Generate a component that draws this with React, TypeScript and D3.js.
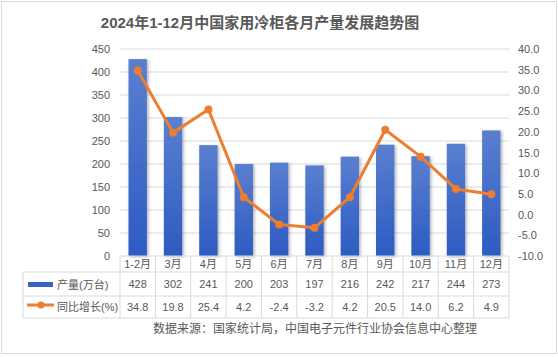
import React from "react";
import * as d3 from "d3";

const categories = ["1-2月", "3月", "4月", "5月", "6月", "7月", "8月", "9月", "10月", "11月", "12月"];
const output = [428, 302, 241, 200, 203, 197, 216, 242, 217, 244, 273];
const growth = [34.8, 19.8, 25.4, 4.2, -2.4, -3.2, 4.2, 20.5, 14.0, 6.2, 4.9];
const leftTicks = [0, 50, 100, 150, 200, 250, 300, 350, 400, 450];
const rightTicks = [-10, -5, 0, 5, 10, 15, 20, 25, 30, 35, 40];
const seriesNames = ["产量(万台)", "同比增长(%)"];
const title = "2024年1-12月中国家用冷柜各月产量发展趋势图";
const source = "数据来源：国家统计局，中国电子元件行业协会信息中心整理";

export default function App() {
  const W = 558, H = 357;
  const x0 = 120, x1 = 509;
  const yTop = 49, yBot = 256;
  const x = d3.scaleBand<string>().domain(categories).range([x0, x1]).paddingInner(0.48).paddingOuter(0.24);
  const band = (x1 - x0) / categories.length;
  const yL = d3.scaleLinear().domain([0, 450]).range([yBot, yTop]);
  const yR = d3.scaleLinear().domain([-10, 40]).range([yBot, yTop]);
  const cx = (c: string) => x0 + categories.indexOf(c) * band + band / 2;
  const line = d3.line<number>().x((_, i) => cx(categories[i])).y((d) => yR(d));
  const font = "'Liberation Sans','Noto Sans CJK SC',sans-serif";
  const txt = "#595959";
  const grid = "#d9d9d9";
  const rows = [256, 272, 296, 318];
  const tableLeft = 23;
  return (
    <svg width={W} height={H} style={{ position: "absolute", left: 0, top: 0 }} fontFamily={font}>
      <defs>
        <linearGradient id="barG" x1="0" y1="0" x2="0" y2="1">
          <stop offset="0%" stopColor="#5a7fcf" />
          <stop offset="100%" stopColor="#2c5bc2" />
        </linearGradient>
        <filter id="sh" x="-30%" y="-10%" width="160%" height="120%">
          <feDropShadow dx="1.5" dy="1" stdDeviation="1.5" floodColor="#000" floodOpacity="0.3" />
        </filter>
      </defs>
      <rect x={0} y={0} width={W} height={H} fill="#fff" />
      <rect x={1.5} y={1.5} width={W - 3} height={352} fill="none" stroke="#d9d9d9" />
      <text x={260} y={28} textAnchor="middle" fontSize={15} fontWeight="bold" fill={txt}>{title}</text>
      {leftTicks.map((t) => (
        <g key={"g" + t}>
          {t > 0 && <line x1={x0} x2={x1} y1={yL(t)} y2={yL(t)} stroke={grid} />}
          <text x={110} y={yL(t) + 4} textAnchor="end" fontSize={11} fill={txt}>{t}</text>
        </g>
      ))}
      {rightTicks.map((t) => (
        <text key={"r" + t} x={518} y={yR(t) + 4} fontSize={11} fill={txt}>{t.toFixed(1)}</text>
      ))}
      {categories.map((c, i) => (
        <rect key={c} x={x(c)!} y={yL(output[i])} width={x.bandwidth()} height={yBot - yL(output[i])} fill="url(#barG)" filter="url(#sh)" />
      ))}
      <path d={line(growth)!} fill="none" stroke="#ed7d31" strokeWidth={3} strokeLinejoin="round" />
      {growth.map((g, i) => (
        <circle key={i} cx={cx(categories[i])} cy={yR(g)} r={4} fill="#ed7d31" />
      ))}
      {/* table */}
      <line x1={x0} x2={x1} y1={rows[0]} y2={rows[0]} stroke={grid} />
      <line x1={tableLeft} x2={x1} y1={rows[1]} y2={rows[1]} stroke={grid} />
      <line x1={tableLeft} x2={x1} y1={rows[2]} y2={rows[2]} stroke={grid} />
      <line x1={tableLeft} x2={x1} y1={rows[3]} y2={rows[3]} stroke={grid} />
      <line x1={tableLeft} x2={tableLeft} y1={rows[1]} y2={rows[3]} stroke={grid} />
      {d3.range(categories.length + 1).map((k) => (
        <line key={"v" + k} x1={x0 + k * band} x2={x0 + k * band} y1={rows[0]} y2={rows[3]} stroke={grid} />
      ))}
      {categories.map((c, i) => (
        <g key={"t" + c} fontSize={11} fill={txt} textAnchor="middle">
          <text x={cx(c)} y={268}>{c}</text>
          <text x={cx(c)} y={288}>{output[i]}</text>
          <text x={cx(c)} y={311}>{growth[i].toFixed(1)}</text>
        </g>
      ))}
      <rect x={28} y={282} width={25} height={5} fill="#3563c6" />
      <text x={57} y={289} fontSize={11} fill={txt}>{seriesNames[0]}</text>
      <line x1={27} x2={54} y1={305} y2={305} stroke="#ed7d31" strokeWidth={3} />
      <circle cx={41} cy={305} r={3.5} fill="#ed7d31" />
      <text x={57} y={311} fontSize={11} fill={txt}>{seriesNames[1]}</text>
      <text x={315} y={333} textAnchor="middle" fontSize={12} fill={txt}>{source}</text>
    </svg>
  );
}
